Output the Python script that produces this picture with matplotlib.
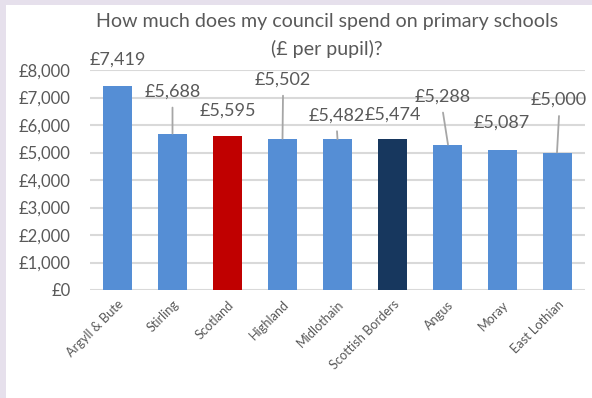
import matplotlib
matplotlib.use("Agg")
import matplotlib.pyplot as plt
from matplotlib.patches import Rectangle
from matplotlib.ticker import FuncFormatter

plt.rcParams['font.family'] = ['Lato', 'DejaVu Sans']

councils = ["Argyll & Bute", "Stirling", "Scotland", "Highland", "Midlothain",
            "Scottish Borders", "Angus", "Moray", "East Lothian"]
spend = [7419, 5688, 5595, 5502, 5482, 5474, 5288, 5087, 5000]
yticks = [0, 1000, 2000, 3000, 4000, 5000, 6000, 7000, 8000]

# styling
BLUE, RED, NAVY = "#558ED5", "#C00000", "#17375E"
bar_colors = [BLUE, BLUE, RED, BLUE, BLUE, NAVY, BLUE, BLUE, BLUE]
TEXT = "#595959"

# label placement relative to bar top (pixels) and leader lines
label_dx = [0, 0, 0.5, 0.5, -0.5, 0.5, -4.5, -0.5, 1.5]
label_dy = [26, 42, 26, 59, 24, 24.5, 48, 27, 52.5]
leader = [False, True, False, True, True, False, True, False, True]
leader_bottom_dx = [0, 0, 0, 0, 0, 0, 0.5, 0, -0.5]

fig = plt.figure(figsize=(5.92, 3.98), dpi=100, facecolor="#E6E0EC")
fig.patches.append(Rectangle((6 / 592, 0), 1 - 6 / 592, 1 - 5 / 398,
                             transform=fig.transFigure, facecolor="white",
                             edgecolor="none", zorder=-10))

ax = fig.add_axes([90 / 592, 1 - 290 / 398, 495 / 592, 220 / 398])
ax.set_facecolor("none")
x = list(range(len(councils)))
ax.bar(x, spend, width=0.51, color=bar_colors, zorder=3)

ax.set_xlim(-0.5, len(councils) - 0.5)
ax.set_ylim(0, 8000)
ax.set_yticks(yticks)
ax.yaxis.set_major_formatter(FuncFormatter(lambda v, p: f"£{int(v):,}"))
ax.grid(axis="y", color="#D9D9D9", linewidth=1.5, zorder=0)
ax.set_axisbelow(True)
for s in ax.spines.values():
    s.set_visible(False)
ax.tick_params(axis="y", length=0, pad=14, labelsize=12, labelcolor=TEXT)
ax.tick_params(axis="x", length=0, pad=6, labelsize=9.2, labelcolor=TEXT)
ax.set_xticks(x)
ax.set_xticklabels(councils, rotation=45, ha="right", rotation_mode="anchor")

# data labels with leader lines
for i, v in enumerate(spend):
    ax.annotate(f"£{v:,}", xy=(i, v), xytext=(label_dx[i], label_dy[i]),
                textcoords="offset pixels", ha="center", va="center",
                fontsize=13, color=TEXT, annotation_clip=False, zorder=5)
    if leader[i]:
        ax.annotate("", xy=(i + leader_bottom_dx[i] / 55, v),
                    xytext=(label_dx[i] - leader_bottom_dx[i], label_dy[i] - 16),
                    textcoords="offset pixels", annotation_clip=False,
                    arrowprops=dict(arrowstyle="-", color="#A6A6A6", lw=1.3,
                                    shrinkA=0, shrinkB=0))

fig.text(327 / 592, 1 - 22 / 398, "How much does my council spend on primary schools",
         ha="center", va="center", fontsize=14.1, color=TEXT)
fig.text(327 / 592, 1 - 49 / 398, "(£ per pupil)?",
         ha="center", va="center", fontsize=14.1, color=TEXT)

fig.savefig("out.png", dpi=100, facecolor=fig.get_facecolor())
